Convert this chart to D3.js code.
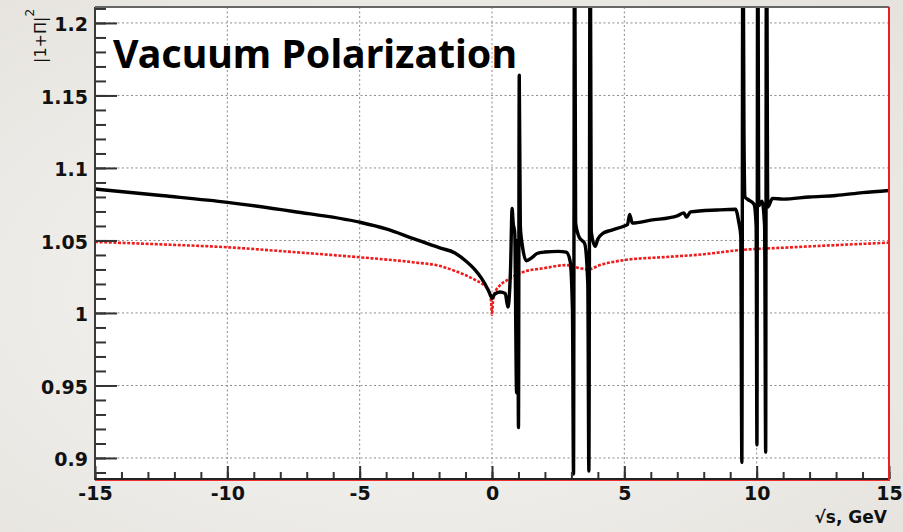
<!DOCTYPE html>
<html>
<head>
<meta charset="utf-8">
<script src="https://cdn.jsdelivr.net/npm/d3@7"></script>
<style>
  body { margin: 0; background: #eeece8; }
</style>
</head>
<body>
<div class="canvas"></div>
<script>
// Values: sqrt(s) in GeV -> |1+Pi|^2
const fullPoints = [
  [-15, 1.0855], [-12.5, 1.081], [-10, 1.0763], [-7.5, 1.070], [-5, 1.0626],
  [-4, 1.058], [-3, 1.0515], [-2, 1.045], [-1.4, 1.0414], [-1, 1.036],
  [-0.64, 1.0297], [-0.4, 1.024], [-0.15, 1.016], [-0.05, 1.012], [0, 1.010],
  [0.1, 1.013], [0.3, 1.0145], [0.5, 1.0135], [0.6, 1.004], [0.7, 1.03],
  [0.76, 1.072], [0.8, 1.062], [0.86, 1.055], [0.93, 0.945], [0.97, 1.05],
  [1.0, 0.921], [1.03, 1.164], [1.07, 1.06], [1.15, 1.046], [1.3, 1.036],
  [1.5, 1.038], [1.7, 1.041], [2.0, 1.042], [2.5, 1.0425], [2.8, 1.042],
  [2.95, 1.036], [3.04, 1.002], [3.08, 0.889], [3.12, 1.3], [3.16, 1.062],
  [3.3, 1.052], [3.5, 1.048], [3.62, 1.02], [3.66, 0.891], [3.71, 1.3],
  [3.75, 1.056], [3.9, 1.046], [4.0, 1.051], [4.2, 1.055], [4.5, 1.057],
  [5.0, 1.060], [5.12, 1.061], [5.2, 1.068], [5.3, 1.062], [6.0, 1.064],
  [7.0, 1.067], [7.25, 1.069], [7.35, 1.066], [7.5, 1.0697], [8.5, 1.071],
  [9.2, 1.0715], [9.33, 1.062], [9.4, 1.053], [9.44, 0.897], [9.48, 1.3],
  [9.52, 1.124], [9.56, 1.08], [9.65, 1.0785], [9.9, 1.075], [9.98, 1.06],
  [10.01, 0.909], [10.04, 1.3], [10.08, 1.074], [10.2, 1.077], [10.3, 1.06],
  [10.34, 0.904], [10.37, 1.3], [10.42, 1.073], [10.6, 1.079], [11, 1.0785],
  [12, 1.080], [13, 1.081], [14, 1.083], [15, 1.0845]
]

const leptonPoints = [
  [-15, 1.049], [-12.5, 1.0473], [-10, 1.0453], [-7.5, 1.042], [-5, 1.0384],
  [-3, 1.035], [-2, 1.0325], [-1.4, 1.029], [-0.64, 1.0228], [-0.3, 1.019],
  [-0.15, 1.016], [-0.04, 1.009], [0, 0.9986], [0.04, 1.009], [0.15, 1.0155],
  [0.3, 1.019], [0.6, 1.023], [1.14, 1.028], [2.0, 1.031], [2.8, 1.033],
  [3.3, 1.031], [3.63, 1.030], [4.08, 1.033], [5, 1.0365], [6.5, 1.0385],
  [8, 1.0405], [9.37, 1.0434], [11, 1.045], [13, 1.0468], [15, 1.0485]
]

const xTicks = [-15, -10, -5, 0, 5, 10, 15]
const yTicks = [0.9, 0.95, 1, 1.05, 1.1, 1.15, 1.2]
const titleText = "Vacuum Polarization"
const xLabel = "√s, GeV"

// Canvas setup
const wWidth = 903
const wHeight = 532
const plot = {left: 95, right: 889, top: 7, bottom: 479}

const svg = d3.select('.canvas')
    .append('svg')
    .attr('width', wWidth)
    .attr('height', wHeight)
    .style('display', 'block')

// soft grey backdrop
const defs = svg.append('defs')
const grad = defs.append('radialGradient')
    .attr('id', 'bg')
    .attr('cx', '45%').attr('cy', '55%').attr('r', '75%')
grad.append('stop').attr('offset', '0%').attr('stop-color', '#f7f6f3')
grad.append('stop').attr('offset', '100%').attr('stop-color', '#e6e3de')
svg.append('rect')
    .attr('width', wWidth)
    .attr('height', wHeight)
    .attr('fill', 'url(#bg)')

defs.append('clipPath').attr('id', 'clip')
    .append('rect')
    .attr('x', plot.left)
    .attr('y', plot.top)
    .attr('width', plot.right - plot.left)
    .attr('height', plot.bottom - plot.top)

svg.append('rect')
    .attr('x', plot.left)
    .attr('y', plot.top)
    .attr('width', plot.right - plot.left)
    .attr('height', plot.bottom - plot.top)
    .attr('fill', '#fff')

// scales
const xScale = d3.scaleLinear()
    .domain([-15, 15])
    .range([plot.left, plot.right])
const yScale = d3.scaleLinear()
    .domain([0.8855, 1.211])
    .range([plot.bottom, plot.top])

// dotted grid
const grid = svg.append('g')
grid.selectAll('line.gx')
    .data(xTicks.slice(1, -1))
    .enter().append('line')
    .attr('x1', d => xScale(d)).attr('x2', d => xScale(d))
    .attr('y1', plot.top).attr('y2', plot.bottom)
grid.selectAll('line.gy')
    .data(yTicks)
    .enter().append('line')
    .attr('x1', plot.left).attr('x2', plot.right)
    .attr('y1', d => yScale(d)).attr('y2', d => yScale(d))
grid.selectAll('line')
    .attr('stroke', '#8a8a8a')
    .attr('stroke-width', 1)
    .attr('stroke-dasharray', '2,2.5')

// curves (monotone keeps the spikes from overshooting)
const line = d3.line()
    .x(d => xScale(d[0]))
    .y(d => yScale(d[1]))
    .curve(d3.curveMonotoneX)

const curves = svg.append('g').attr('clip-path', 'url(#clip)')
curves.append('path')
    .datum(leptonPoints)
    .attr('d', line)
    .attr('fill', 'none')
    .attr('stroke', '#ee1c1c')
    .attr('stroke-width', 2.6)
    .attr('stroke-dasharray', '3,1.6')

curves.append('path')
    .datum(fullPoints)
    .attr('d', line)
    .attr('fill', 'none')
    .attr('stroke', '#000')
    .attr('stroke-width', 3.4)
    .attr('stroke-linejoin', 'round')

// axes
const yMinor = d3.range(89, 122).map(v => v / 100)
const xMinor = d3.range(-15, 16)

svg.append('g')
    .attr('transform', `translate(${plot.left}, 0)`)
    .call(d3.axisLeft(yScale).tickValues(yMinor).tickSize(-11).tickFormat(''))
    .call(g => g.select('.domain').remove())
    .selectAll('line').attr('stroke', '#333').attr('stroke-width', 2)

const yAxisGroup = svg.append('g')
    .attr('transform', `translate(${plot.left}, 0)`)
    .call(d3.axisLeft(yScale).tickValues(yTicks).tickSize(-22).tickPadding(7).tickFormat(d => String(d)))
    .call(g => g.select('.domain').remove())
yAxisGroup.selectAll('line').attr('stroke', '#333').attr('stroke-width', 2)
yAxisGroup.selectAll('text')
    .attr('dy', '0.42em')
    .style('font-family', '"DejaVu Sans", sans-serif')
    .style('font-weight', 'bold')
    .style('font-size', '19px')
    .attr('fill', '#111')

svg.append('g')
    .attr('transform', `translate(0, ${plot.bottom})`)
    .call(d3.axisBottom(xScale).tickValues(xMinor).tickSize(-7).tickFormat(''))
    .call(g => g.select('.domain').remove())
    .selectAll('line').attr('stroke', '#333').attr('stroke-width', 2)

const xAxisGroup = svg.append('g')
    .attr('transform', `translate(0, ${plot.bottom})`)
    .call(d3.axisBottom(xScale).tickValues(xTicks).tickSize(-13).tickPadding(8).tickFormat(d => String(d)))
    .call(g => g.select('.domain').remove())
xAxisGroup.selectAll('line').attr('stroke', '#333').attr('stroke-width', 2)
xAxisGroup.selectAll('text')
    .style('font-family', '"DejaVu Sans", sans-serif')
    .style('font-weight', 'bold')
    .style('font-size', '19px')
    .attr('fill', '#111')

// frame: grey left/top, black + red bottom, red right
svg.append('line')
    .attr('x1', plot.left).attr('x2', plot.left)
    .attr('y1', plot.top).attr('y2', plot.bottom + 1)
    .attr('stroke', '#3a3a3a').attr('stroke-width', 2)
svg.append('line')
    .attr('x1', plot.left).attr('x2', plot.right)
    .attr('y1', plot.top).attr('y2', plot.top)
    .attr('stroke', '#666').attr('stroke-width', 2)
svg.append('line')
    .attr('x1', plot.left).attr('x2', plot.right)
    .attr('y1', plot.bottom).attr('y2', plot.bottom)
    .attr('stroke', '#222').attr('stroke-width', 2)
svg.append('line')
    .attr('x1', plot.left).attr('x2', plot.right + 1)
    .attr('y1', plot.bottom + 1.5).attr('y2', plot.bottom + 1.5)
    .attr('stroke', '#f03030').attr('stroke-width', 1.2)
svg.append('line')
    .attr('x1', plot.right).attr('x2', plot.right)
    .attr('y1', plot.top).attr('y2', plot.bottom + 2)
    .attr('stroke', '#e82020').attr('stroke-width', 2)

// title inside the frame
svg.append('text')
    .attr('x', 113)
    .attr('y', 68)
    .attr('textLength', 404)
    .attr('lengthAdjust', 'spacingAndGlyphs')
    .style('font-family', '"Comic Sans MS", "Noto Sans", sans-serif')
    .style('font-weight', 'bold')
    .style('font-size', '39px')
    .attr('fill', '#000')
    .text(titleText)

// axis titles
svg.append('text')
    .attr('x', 887)
    .attr('y', 523)
    .attr('text-anchor', 'end')
    .style('font-family', '"DejaVu Sans", sans-serif')
    .style('font-weight', 'bold')
    .style('font-size', '17px')
    .attr('fill', '#111')
    .text(xLabel)

const yTitle = svg.append('text')
    .attr('transform', 'translate(46, 63) rotate(-90)')
    .style('font-family', '"DejaVu Sans", sans-serif')
    .style('font-size', '16px')
    .attr('fill', '#111')
yTitle.append('tspan').text('|1+Π|')
yTitle.append('tspan')
    .attr('dy', -12)
    .style('font-size', '12px')
    .text('2')
</script>
</body>
</html>
